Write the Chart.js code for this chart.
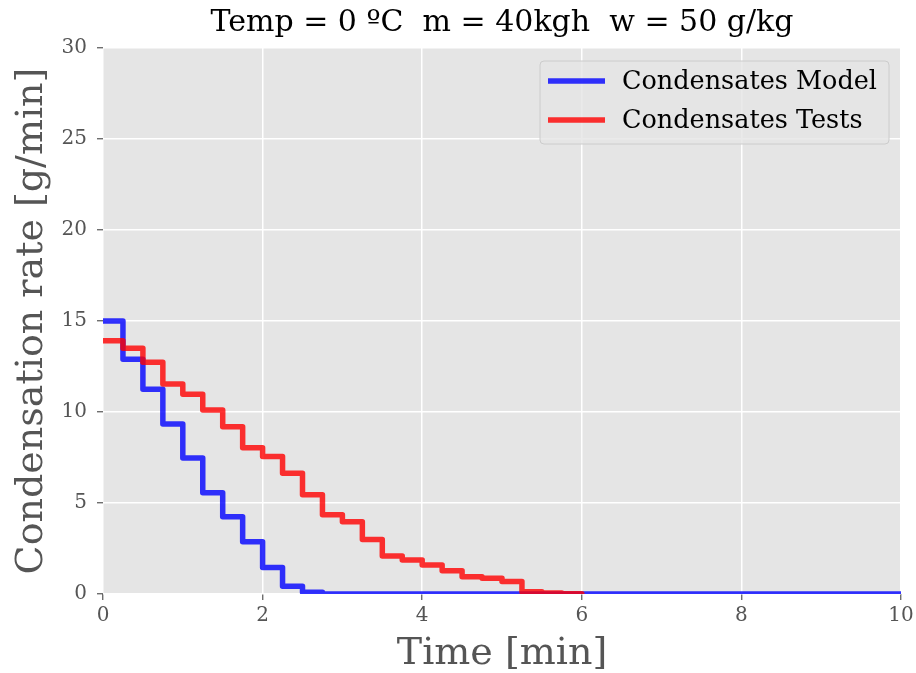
<!DOCTYPE html>
<html>
<head>
<meta charset="utf-8">
<script src="https://cdn.jsdelivr.net/npm/chart.js@4.4.0/dist/chart.umd.min.js"></script>
<style>
  html, body { margin: 0; padding: 0; background: #fff; }
  #wrap { width: 916px; height: 673px; }
</style>
</head>
<body>
<div id="wrap"><canvas id="condChart" width="916" height="673"></canvas></div>
<script>
const chartTitle = "Temp = 0 \u00baC  m = 40kgh  w = 50 g/kg";
const xTicks = [0, 2, 4, 6, 8, 10];
const yTicks = [0, 5, 10, 15, 20, 25, 30];

// model: one value every quarter minute (steps-post)
const modelTime = [0, 0.25, 0.5, 0.75, 1, 1.25, 1.5, 1.75, 2, 2.25, 2.5, 2.75, 3, 3.25, 3.5, 3.75,
  4, 4.25, 4.5, 4.75, 5, 5.25, 5.5, 5.75, 6, 6.25, 6.5, 6.75, 7, 7.25, 7.5, 7.75,
  8, 8.25, 8.5, 8.75, 9, 9.25, 9.5, 9.75, 10];
const modelRate = [15.0, 12.9, 11.25, 9.34, 7.47, 5.57, 4.25, 2.87, 1.45, 0.42, 0.1, 0, 0, 0, 0, 0,
  0, 0, 0, 0, 0, 0, 0, 0, 0, 0, 0, 0, 0, 0, 0, 0,
  0, 0, 0, 0, 0, 0, 0, 0, 0];

// tests
const testTime = [0, 0.25, 0.5, 0.75, 1, 1.25, 1.5, 1.75, 2, 2.25, 2.5, 2.75, 3, 3.25, 3.5, 3.75,
  4, 4.25, 4.5, 4.75, 5, 5.25, 5.5, 5.75, 6];
const testRate = [13.92, 13.5, 12.73, 11.54, 10.97, 10.11, 9.19, 8.04, 7.56, 6.63, 5.46, 4.36, 3.97, 3.0, 2.09, 1.87,
  1.59, 1.28, 0.95, 0.86, 0.68, 0.12, 0.05, 0.02, 0];

const seriesLabels = ["Condensates Model", "Condensates Tests"];
const seriesColors = ["rgba(0,0,255,0.8)", "rgba(255,0,0,0.8)"];

const toPoints = (xs, ys) => xs.map((x, i) => ({ x: x, y: ys[i] }));

// gray plot background, title and legend inside the axes
const ggplotLook = {
  id: "ggplotLook",
  beforeDraw(chart) {
    const { ctx, chartArea: a } = chart;
    ctx.save();
    ctx.fillStyle = "#E5E5E5";
    ctx.fillRect(a.left, a.top, a.right - a.left, a.bottom - a.top);
    ctx.restore();
  },
  afterDraw(chart) {
    const { ctx, chartArea: a } = chart;
    ctx.save();
    ctx.fillStyle = "#000";
    ctx.font = "30px 'DejaVu Serif'";
    ctx.textAlign = "center";
    ctx.textBaseline = "middle";
    ctx.fillText(chartTitle, (a.left + a.right) / 2, 23);

    // legend box
    const bx = a.right - 361, by = a.top + 13, bw = 349, bh = 83;
    ctx.beginPath();
    ctx.roundRect(bx, by, bw, bh, 4);
    ctx.fillStyle = "rgba(229,229,229,0.8)";
    ctx.fill();
    ctx.strokeStyle = "#CCCCCC";
    ctx.lineWidth = 1;
    ctx.stroke();
    ctx.font = "25.5px 'DejaVu Serif'";
    ctx.textAlign = "left";
    seriesLabels.forEach((lab, i) => {
      const cy = by + 20 + i * 39;
      ctx.strokeStyle = seriesColors[i];
      ctx.lineWidth = 5.5;
      ctx.beginPath();
      ctx.moveTo(bx + 8, cy);
      ctx.lineTo(bx + 65, cy);
      ctx.stroke();
      ctx.fillStyle = "#000";
      ctx.fillText(lab, bx + 82, cy + 1);
    });
    ctx.restore();
  }
};

const lineStyle = {
  borderWidth: 5.5,
  pointRadius: 0,
  stepped: true,
  fill: false,
  clip: 0,
  borderJoinStyle: "round"
};

new Chart(document.getElementById("condChart").getContext("2d"), {
  type: "line",
  data: {
    datasets: [
      Object.assign({
        label: seriesLabels[0],
        data: toPoints(modelTime, modelRate),
        borderColor: seriesColors[0],
        order: 1
      }, lineStyle),
      Object.assign({
        label: seriesLabels[1],
        data: toPoints(testTime, testRate),
        borderColor: seriesColors[1],
        order: 0
      }, lineStyle)
    ]
  },
  options: {
    responsive: false,
    animation: false,
    layout: { padding: { top: 48, right: 15, left: 0, bottom: 0 } },
    plugins: {
      legend: { display: false },
      tooltip: { enabled: false }
    },
    scales: {
      x: {
        type: "linear",
        min: 0,
        max: 10,
        afterBuildTicks: s => { s.ticks = xTicks.map(v => ({ value: v })); },
        afterFit: s => { s.height = 79; s.paddingLeft = 0; s.paddingRight = 0; },
        border: { display: false },
        grid: { color: "#FFFFFF", lineWidth: 1.5, tickColor: "#555555", tickLength: 6, tickWidth: 1.2 },
        ticks: { color: "#555555", font: { family: "DejaVu Serif", size: 20, lineHeight: 1 }, padding: 6, maxRotation: 0 },
        title: {
          display: true,
          text: "Time [min]",
          color: "#555555",
          font: { family: "DejaVu Serif", size: 38, lineHeight: 1 },
          padding: { top: 0, bottom: 0 }
        }
      },
      y: {
        min: 0,
        max: 30,
        afterBuildTicks: s => { s.ticks = yTicks.map(v => ({ value: v })); },
        afterFit: s => { s.width = 103; s.paddingTop = 0; s.paddingBottom = 0; },
        border: { display: false },
        grid: { color: "#FFFFFF", lineWidth: 1.5, tickColor: "#555555", tickLength: 6, tickWidth: 1.2 },
        ticks: { color: "#555555", font: { family: "DejaVu Serif", size: 20 }, padding: 10 },
        title: {
          display: true,
          text: "Condensation rate [g/min]",
          color: "#555555",
          font: { family: "DejaVu Serif", size: 38, lineHeight: 1 },
          padding: { top: 13, bottom: 0 }
        }
      }
    }
  },
  plugins: [ggplotLook]
});
</script>
</body>
</html>
